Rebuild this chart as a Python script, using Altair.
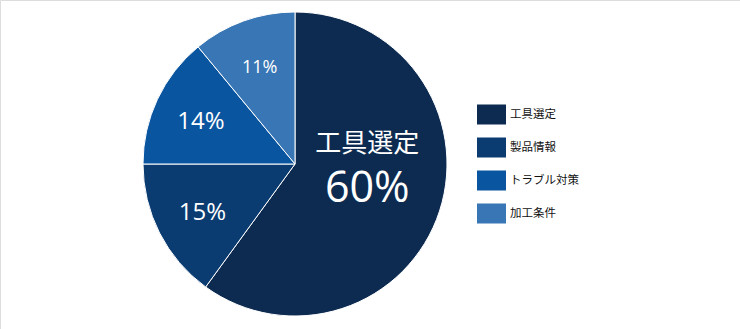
import altair as alt
import pandas as pd

categories = ["工具選定", "製品情報", "トラブル対策", "加工条件"]
values = [60, 15, 14, 11]
labels = ["60%", "15%", "14%", "11%"]
colors = ["#0d2b50", "#0a3c72", "#0a55a0", "#3876b5"]

df = pd.DataFrame({
    "cat": categories,
    "value": values,
    "label": labels,
    "idx": list(range(len(categories))),
})

CX, CY, R = 295, 164, 152
FONT = "Open Sans, Noto Sans CJK JP, sans-serif"

base = alt.Chart(df).encode(
    theta=alt.Theta("value:Q", stack=True),
    order=alt.Order("idx:Q"),
    x=alt.value(CX),
    y=alt.value(CY),
)

pie = base.mark_arc(outerRadius=R, stroke="white", strokeWidth=1).encode(
    color=alt.Color(
        "cat:N",
        scale=alt.Scale(domain=categories, range=colors),
        sort=categories,
        legend=alt.Legend(
            orient="none",
            legendX=477,
            legendY=100,
            title=None,
            symbolType="M-1,-0.69L1,-0.69L1,0.69L-1,0.69Z",
            symbolSize=841,
            symbolStrokeWidth=0,
            symbolOpacity=1,
            labelFontSize=11.5,
            labelFont="Noto Sans CJK JP",
            labelColor="#111111",
            rowPadding=8,
            labelOffset=4,
            padding=0,
        ),
    )
)

small = base.transform_calculate(
    txt="datum.cat == '工具選定' ? '' : datum.label"
).mark_text(radius=104, dy=2, color="white", font=FONT, baseline="middle", align="center").encode(
    text="txt:N",
    size=alt.condition("datum.cat == '加工条件'", alt.value(18), alt.value(24)),
)

big_pct = base.transform_calculate(
    txt="datum.cat == '工具選定' ? datum.label : ''"
).mark_text(radius=76, dy=2, fontSize=43, color="white", font=FONT, baseline="middle", align="center").encode(
    text="txt:N"
)

big_name = base.transform_calculate(
    txt="datum.cat == '工具選定' ? datum.cat : ''"
).mark_text(radius=76, dy=-43, fontSize=26, color="white", font="Noto Sans CJK JP", baseline="middle", align="center").encode(
    text="txt:N"
)

chart = alt.layer(pie, small, big_pct, big_name).properties(
    width=740,
    height=329,
    autosize=alt.AutoSizeParams(type="none"),
    padding=0,
).configure_view(stroke=None).configure(background="white")

chart.save("out.html", embed_options={"renderer": "svg", "actions": False})
